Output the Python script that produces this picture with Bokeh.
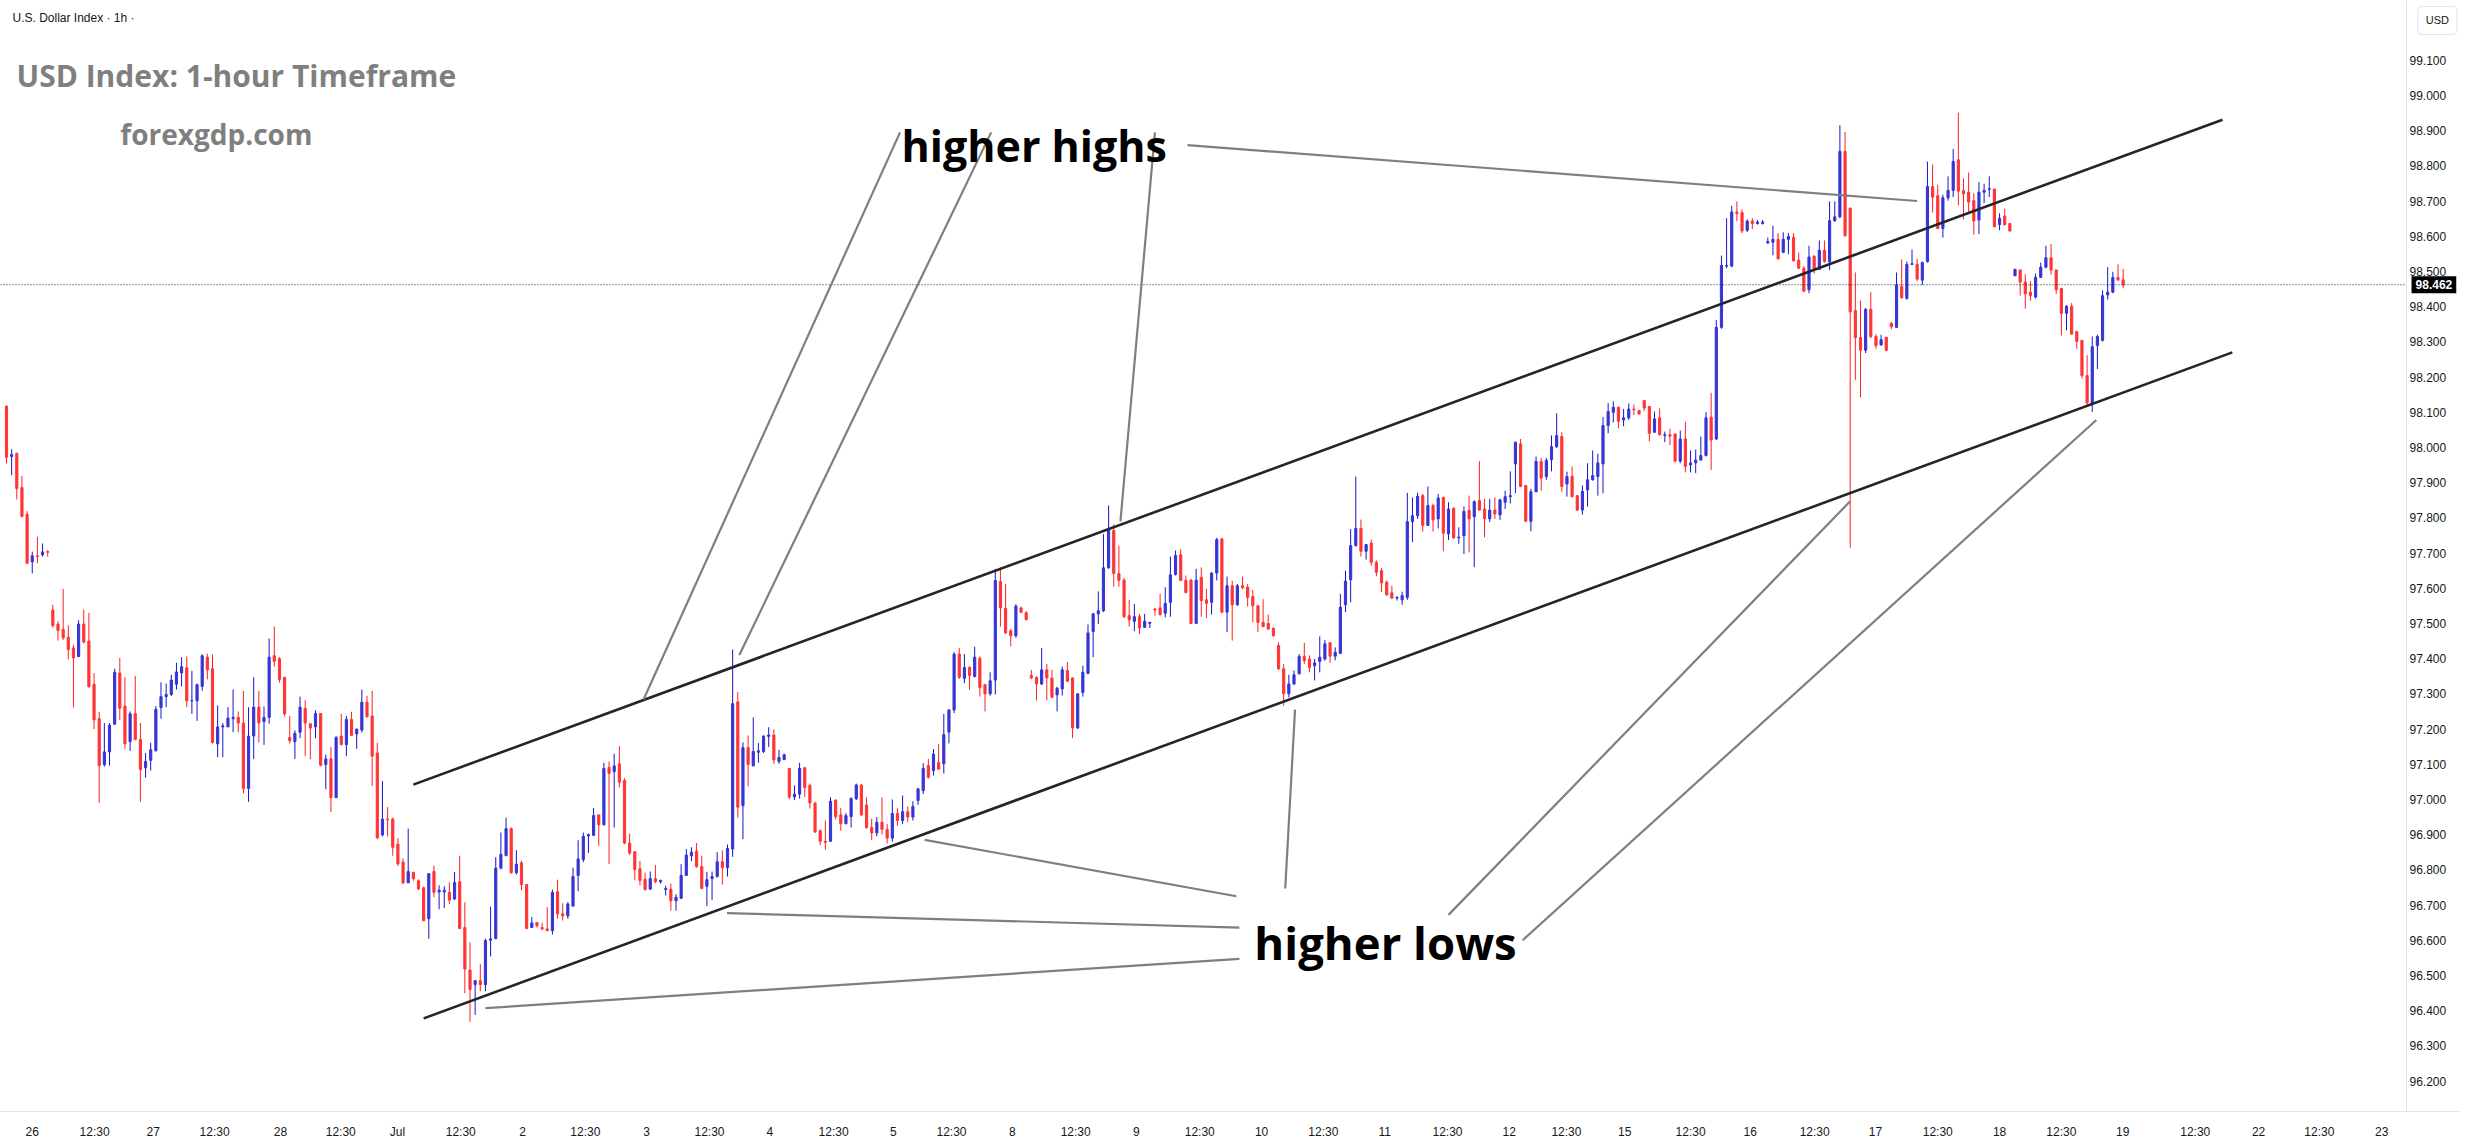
from bokeh.plotting import figure
from bokeh.models import Range1d, FixedTicker, NumeralTickFormatter, Span, Label, ColumnDataSource
from bokeh.embed import file_html
from bokeh.resources import INLINE
from bokeh.core.properties import value

# ---------------- data (1h candles) ----------------
opens = [
98.117,97.974,97.983,97.886,97.810,97.675,97.692,97.695,97.704,97.538,
97.498,97.483,97.461,97.430,97.406,97.498,97.450,97.327,97.229,97.099,
97.135,97.214,97.359,97.265,97.164,97.244,97.170,97.090,97.111,97.138,
97.261,97.292,97.298,97.327,97.359,97.374,97.280,97.280,97.321,97.404,
97.371,97.158,97.206,97.206,97.229,97.233,97.217,97.031,97.180,97.262,
97.221,97.233,97.408,97.400,97.347,97.176,97.164,97.191,97.259,97.215,
97.206,97.244,97.099,97.115,97.005,97.180,97.156,97.227,97.186,97.197,
97.276,97.237,97.132,96.899,96.944,96.944,96.873,96.822,96.763,96.793,
96.769,96.749,96.661,96.795,96.737,96.737,96.736,96.717,96.766,96.636,
96.515,96.474,96.485,96.474,96.600,96.605,96.805,96.840,96.917,96.792,
96.820,96.758,96.636,96.650,96.636,96.632,96.627,96.738,96.675,96.669,
96.697,96.784,96.829,96.896,96.898,96.956,96.928,97.091,97.079,97.101,
97.054,96.876,96.851,96.803,96.773,96.745,96.775,96.766,96.744,96.745,
96.712,96.719,96.784,96.840,96.853,96.809,96.753,96.775,96.781,96.823,
96.806,96.859,97.277,96.982,97.147,97.095,97.134,97.136,97.179,97.183,
97.108,97.113,97.088,97.007,97.015,97.090,97.040,96.989,96.911,96.881,
96.881,96.998,96.956,96.931,96.951,97.002,97.041,96.984,96.920,96.905,
96.935,96.915,96.890,96.960,96.940,96.965,96.950,96.997,97.025,97.096,
97.082,97.105,97.101,97.191,97.254,97.413,97.344,97.375,97.349,97.401,
97.326,97.300,97.339,97.619,97.543,97.479,97.465,97.544,97.530,97.352,
97.347,97.328,97.368,97.345,97.297,97.314,97.366,97.345,97.203,97.304,
97.358,97.477,97.527,97.536,97.658,97.764,97.642,97.623,97.522,97.506,
97.519,97.489,97.500,97.541,97.544,97.529,97.560,97.639,97.695,97.622,
97.623,97.500,97.631,97.567,97.560,97.643,97.740,97.532,97.607,97.553,
97.607,97.603,97.576,97.550,97.503,97.500,97.486,97.437,97.371,97.300,
97.328,97.357,97.406,97.399,97.380,97.392,97.399,97.445,97.407,97.415,
97.553,97.624,97.721,97.770,97.705,97.728,97.674,97.650,97.617,97.587,
97.572,97.567,97.574,97.789,97.806,97.863,97.778,97.835,97.797,97.858,
97.754,97.827,97.743,97.749,97.821,97.803,97.849,97.825,97.797,97.822,
97.808,97.844,97.860,97.953,98.010,97.892,97.790,97.874,97.960,97.917,
97.965,98.002,98.031,97.896,97.918,97.863,97.822,97.879,97.908,97.917,
97.953,98.062,98.100,98.114,98.078,98.084,98.109,98.105,98.133,98.116,
98.043,98.084,98.034,98.036,98.038,97.961,98.024,97.950,97.956,97.964,
97.977,98.086,98.024,98.341,98.515,98.515,98.669,98.667,98.617,98.643,
98.636,98.636,98.581,98.583,98.591,98.554,98.591,98.596,98.532,98.509,
98.448,98.543,98.506,98.560,98.528,98.644,98.655,98.841,98.680,98.389,
98.312,98.276,98.392,98.315,98.291,98.313,98.352,98.341,98.457,98.423,
98.520,98.520,98.475,98.528,98.741,98.715,98.622,98.709,98.730,98.817,
98.730,98.725,98.701,98.646,98.725,98.733,98.734,98.633,98.657,98.636,
98.488,98.504,98.470,98.441,98.427,98.483,98.512,98.539,98.504,98.452,
98.381,98.401,98.329,98.304,98.204,98.126,98.289,98.304,98.433,98.441,
98.483,98.476]

highs = [
98.119,97.995,97.985,97.919,97.819,97.704,97.746,97.727,97.708,97.553,
97.506,97.598,97.495,97.439,97.509,97.539,97.530,97.359,97.249,97.217,
97.217,97.371,97.402,97.347,97.250,97.351,97.217,97.132,97.161,97.265,
97.333,97.329,97.354,97.388,97.404,97.406,97.365,97.329,97.412,97.414,
97.412,97.267,97.217,97.262,97.312,97.250,97.308,97.262,97.347,97.308,
97.264,97.457,97.491,97.404,97.347,97.237,97.196,97.292,97.282,97.215,
97.253,97.244,97.127,97.149,97.180,97.243,97.237,97.249,97.200,97.312,
97.294,97.308,97.161,97.052,96.978,96.948,96.890,96.832,96.917,96.793,
96.773,96.752,96.789,96.812,96.756,96.753,96.764,96.794,96.840,96.708,
96.594,96.487,96.532,96.604,96.695,96.836,96.906,96.948,96.920,96.856,
96.826,96.758,96.666,96.650,96.649,96.694,96.744,96.772,96.705,96.708,
96.806,96.884,96.906,96.903,96.976,96.956,97.104,97.108,97.130,97.151,
97.060,96.903,96.853,96.825,96.792,96.795,96.814,96.772,96.755,96.761,
96.731,96.816,96.859,96.864,96.876,96.840,96.794,96.795,96.850,96.855,
96.872,97.426,97.305,97.162,97.182,97.233,97.160,97.182,97.205,97.199,
97.141,97.130,97.088,97.040,97.104,97.090,97.045,96.993,96.915,96.940,
97.006,97.000,96.976,96.961,97.006,97.045,97.043,97.006,96.945,96.950,
97.006,96.930,97.000,96.975,97.011,96.980,96.995,97.033,97.103,97.115,
97.143,97.157,97.243,97.257,97.418,97.430,97.413,97.378,97.434,97.406,
97.328,97.361,97.655,97.659,97.612,97.484,97.555,97.548,97.535,97.368,
97.349,97.430,97.385,97.368,97.320,97.377,97.390,97.347,97.302,97.380,
97.497,97.530,97.591,97.754,97.835,97.781,97.721,97.629,97.567,97.555,
97.527,97.527,97.503,97.544,97.584,97.603,97.690,97.707,97.711,97.636,
97.626,97.655,97.659,97.598,97.645,97.743,97.743,97.633,97.621,97.612,
97.633,97.612,97.595,97.553,97.569,97.525,97.489,97.446,97.385,97.354,
97.366,97.413,97.445,97.409,97.399,97.463,97.453,97.447,97.432,97.584,
97.650,97.768,97.917,97.795,97.726,97.738,97.679,97.657,97.622,97.607,
97.577,97.590,97.871,97.858,97.871,97.868,97.889,97.840,97.868,97.860,
97.844,97.830,97.773,97.832,97.863,97.849,97.961,97.854,97.854,97.858,
97.854,97.877,97.932,98.015,98.024,97.892,97.882,97.974,97.970,97.970,
98.034,98.097,98.043,97.931,97.946,97.863,97.892,97.955,97.991,97.982,
98.086,98.126,98.131,98.116,98.109,98.125,98.122,98.105,98.133,98.116,
98.102,98.111,98.045,98.053,98.040,98.048,98.073,97.991,97.994,98.031,
98.100,98.155,98.362,98.545,98.651,98.686,98.699,98.676,98.648,98.651,
98.646,98.646,98.596,98.630,98.609,98.611,98.609,98.609,98.554,98.515,
98.573,98.546,98.588,98.588,98.699,98.699,98.915,98.896,98.680,98.497,
98.417,98.396,98.441,98.322,98.320,98.313,98.357,98.497,98.534,98.528,
98.562,98.536,98.528,98.812,98.804,98.746,98.718,98.770,98.848,98.951,
98.764,98.781,98.722,98.754,98.749,98.770,98.734,98.665,98.678,98.636,
98.507,98.506,98.492,98.473,98.494,98.525,98.573,98.578,98.504,98.452,
98.404,98.410,98.331,98.304,98.262,98.315,98.320,98.446,98.512,98.499,
98.520,98.507]

lows = [
97.954,97.921,97.852,97.801,97.668,97.642,97.671,97.690,97.690,97.488,
97.451,97.453,97.398,97.261,97.404,97.443,97.318,97.200,96.990,97.093,
97.096,97.211,97.226,97.144,97.138,97.168,96.993,97.062,97.082,97.137,
97.229,97.262,97.294,97.312,97.321,97.262,97.243,97.223,97.309,97.341,
97.158,97.120,97.120,97.206,97.191,97.191,97.017,96.993,97.115,97.162,
97.155,97.215,97.377,97.332,97.235,97.159,97.115,97.174,97.123,97.114,
97.174,97.094,97.029,96.964,97.005,97.153,97.123,97.182,97.144,97.190,
97.232,97.038,96.887,96.895,96.895,96.840,96.811,96.760,96.763,96.769,
96.742,96.655,96.604,96.722,96.688,96.691,96.703,96.714,96.633,96.449,
96.368,96.388,96.455,96.455,96.554,96.602,96.801,96.840,96.789,96.786,
96.742,96.633,96.636,96.636,96.628,96.627,96.616,96.661,96.656,96.661,
96.697,96.739,96.822,96.848,96.896,96.868,96.926,96.816,96.920,97.034,
96.873,96.842,96.770,96.756,96.741,96.744,96.762,96.761,96.727,96.684,
96.684,96.719,96.783,96.825,96.806,96.745,96.697,96.714,96.778,96.758,
96.781,96.837,96.948,96.887,97.037,97.095,97.104,97.132,97.149,97.101,
97.101,97.112,97.001,96.998,97.002,97.007,96.974,96.907,96.870,96.857,
96.881,96.943,96.911,96.929,96.920,96.998,96.952,96.917,96.885,96.895,
96.900,96.875,96.880,96.925,96.930,96.935,96.940,96.985,97.015,97.059,
97.068,97.084,97.074,97.159,97.245,97.342,97.330,97.311,97.347,97.292,
97.250,97.295,97.298,97.491,97.470,97.435,97.459,97.529,97.508,97.342,
97.281,97.325,97.281,97.288,97.250,97.295,97.333,97.174,97.200,97.292,
97.356,97.404,97.498,97.532,97.655,97.604,97.604,97.515,97.491,97.478,
97.470,97.487,97.487,97.522,97.522,97.517,97.519,97.636,97.620,97.585,
97.498,97.498,97.519,97.515,97.525,97.622,97.529,97.475,97.451,97.550,
97.598,97.548,97.503,97.475,97.489,97.481,97.462,97.368,97.266,97.290,
97.325,97.355,97.385,97.361,97.338,97.361,97.394,97.388,97.395,97.413,
97.532,97.560,97.718,97.690,97.681,97.664,97.634,97.589,97.579,97.570,
97.565,97.553,97.567,97.731,97.797,97.761,97.778,97.761,97.770,97.705,
97.737,97.740,97.726,97.697,97.702,97.660,97.820,97.745,97.788,97.797,
97.794,97.825,97.841,97.870,97.887,97.790,97.762,97.873,97.877,97.908,
97.932,97.998,97.874,97.860,97.858,97.820,97.809,97.832,97.906,97.863,
97.870,98.040,98.071,98.054,98.060,98.078,98.092,98.093,98.103,98.017,
98.043,98.034,98.015,98.007,97.958,97.955,97.929,97.929,97.927,97.963,
97.974,97.936,98.021,98.337,98.509,98.512,98.643,98.609,98.612,98.620,
98.633,98.633,98.578,98.546,98.533,98.552,98.549,98.528,98.507,98.441,
98.438,98.494,98.504,98.525,98.504,98.641,98.651,98.599,97.715,98.192,
98.143,98.268,98.310,98.280,98.289,98.273,98.336,98.339,98.423,98.420,
98.518,98.473,98.462,98.525,98.667,98.620,98.596,98.701,98.711,98.688,
98.648,98.667,98.604,98.606,98.694,98.711,98.625,98.617,98.630,98.613,
98.486,98.431,98.394,98.417,98.423,98.483,98.509,98.491,98.436,98.318,
98.333,98.320,98.280,98.196,98.118,98.101,98.223,98.301,98.420,98.438,
98.473,98.452]

closes = [
97.972,97.980,97.883,97.804,97.671,97.692,97.690,97.703,97.702,97.494,
97.480,97.459,97.426,97.402,97.498,97.447,97.320,97.226,97.096,97.135,
97.211,97.361,97.259,97.158,97.243,97.170,97.085,97.108,97.141,97.256,
97.292,97.298,97.339,97.362,97.377,97.280,97.281,97.326,97.408,97.368,
97.162,97.206,97.209,97.231,97.233,97.217,97.031,97.180,97.262,97.217,
97.233,97.404,97.392,97.341,97.243,97.167,97.188,97.262,97.217,97.203,
97.244,97.097,97.115,97.005,97.176,97.156,97.227,97.182,97.200,97.276,
97.235,97.123,96.891,96.944,96.942,96.864,96.817,96.763,96.795,96.775,
96.746,96.655,96.789,96.736,96.742,96.742,96.714,96.764,96.633,96.518,
96.460,96.485,96.474,96.599,96.604,96.805,96.844,96.917,96.792,96.816,
96.758,96.633,96.649,96.641,96.632,96.627,96.736,96.675,96.669,96.703,
96.781,96.831,96.895,96.900,96.954,96.928,97.088,97.074,97.095,97.049,
96.876,96.848,96.801,96.770,96.744,96.775,96.766,96.770,96.747,96.712,
96.722,96.784,96.842,96.850,96.809,96.747,96.772,96.781,96.823,96.806,
96.861,97.272,96.978,97.147,97.099,97.136,97.138,97.180,97.183,97.112,
97.119,97.127,97.007,97.015,97.088,97.034,96.990,96.907,96.881,96.878,
96.995,96.951,96.931,96.954,97.002,97.041,96.956,96.920,96.905,96.935,
96.915,96.890,96.960,96.940,96.965,96.950,96.980,97.030,97.088,97.063,
97.129,97.086,97.184,97.254,97.413,97.347,97.375,97.352,97.404,97.318,
97.300,97.337,97.622,97.544,97.473,97.465,97.549,97.532,97.511,97.345,
97.328,97.368,97.345,97.290,97.316,97.368,97.336,97.203,97.300,97.361,
97.473,97.527,97.536,97.658,97.764,97.642,97.622,97.519,97.510,97.519,
97.487,97.506,97.503,97.538,97.525,97.557,97.638,97.693,97.622,97.588,
97.500,97.623,97.565,97.557,97.643,97.738,97.532,97.607,97.553,97.607,
97.601,97.574,97.550,97.503,97.491,97.484,97.465,97.371,97.300,97.328,
97.354,97.406,97.394,97.375,97.388,97.404,97.442,97.407,97.418,97.546,
97.620,97.721,97.770,97.705,97.724,97.674,97.645,97.615,97.581,97.572,
97.574,97.579,97.789,97.806,97.861,97.778,97.835,97.794,97.856,97.756,
97.825,97.743,97.745,97.818,97.797,97.846,97.822,97.797,97.822,97.811,
97.851,97.860,97.863,98.015,97.889,97.790,97.874,97.960,97.913,97.963,
98.002,98.034,97.889,97.917,97.860,97.822,97.875,97.908,97.920,97.956,
98.062,98.102,98.114,98.074,98.084,98.109,98.107,98.095,98.112,98.040,
98.081,98.036,98.036,98.032,97.961,98.024,97.946,97.956,97.964,97.977,
98.084,98.021,98.341,98.517,98.517,98.669,98.664,98.615,98.643,98.636,
98.640,98.640,98.585,98.591,98.536,98.591,98.599,98.530,98.509,98.444,
98.541,98.504,98.560,98.528,98.644,98.655,98.841,98.601,98.385,98.312,
98.276,98.392,98.315,98.289,98.306,98.276,98.343,98.462,98.425,98.520,
98.522,98.478,98.525,98.741,98.711,98.622,98.709,98.730,98.812,98.728,
98.720,98.697,98.643,98.725,98.730,98.735,98.627,98.651,98.633,98.615,
98.506,98.470,98.436,98.431,98.483,98.512,98.539,98.504,98.448,98.381,
98.401,98.322,98.301,98.204,98.126,98.286,98.315,98.431,98.441,98.483,
98.476,98.462]

n = len(closes)
if not (len(opens) == len(highs) == len(lows) == n):
    raise SystemExit(f"length mismatch o={len(opens)} h={len(highs)} l={len(lows)} c={n}")

# time-axis labels (bar index of each label)
xtick_pos = [5.0, 17.1, 28.5, 40.4, 53.2, 64.9, 75.9, 88.2, 100.2, 112.4, 124.3, 136.5,
             148.2, 160.6, 172.2, 183.5, 195.3, 207.6, 219.4, 231.7, 243.7, 255.7, 267.6,
             279.8, 291.8, 302.9, 314.2, 327.0, 338.6, 351.1, 362.9, 375.0, 387.0, 399.0,
             410.9, 425.0, 437.3, 449.1, 461.2]
xtick_lab = ["26", "12:30", "27", "12:30", "28", "12:30", "Jul", "12:30", "2", "12:30",
             "3", "12:30", "4", "12:30", "5", "12:30", "8", "12:30", "9", "12:30", "10",
             "12:30", "11", "12:30", "12", "12:30", "15", "12:30", "16", "12:30", "17",
             "12:30", "18", "12:30", "19", "12:30", "22", "12:30", "23"]
ytick_pos = [96.2, 96.3, 96.4, 96.5, 96.6, 96.7, 96.8, 96.9, 97.0, 97.1, 97.2, 97.3,
             97.4, 97.5, 97.6, 97.7, 97.8, 97.9, 98.0, 98.1, 98.2, 98.3, 98.4, 98.5,
             98.6, 98.7, 98.8, 98.9, 99.0, 99.1]

# channel lines (bar index, price)
chan_x0 = [79.0, 81.0]
chan_y0 = [97.042, 96.378]
chan_x1 = [430.3, 432.2]
chan_y1 = [98.931, 98.270]

# gray pointer lines (bar index, price)
ptr_x0 = [173.5, 191.2, 223.0, 229.3, 238.8, 248.3, 239.4, 239.4, 280.0, 294.4]
ptr_y0 = [98.895, 98.895, 98.895, 98.859, 96.725, 96.747, 96.636, 96.547, 96.672, 96.600]
ptr_x1 = [123.7, 142.3, 216.3, 371.0, 178.3, 250.2, 139.9, 93.0, 358.0, 405.8]
ptr_y1 = [97.284, 97.410, 97.790, 98.700, 96.885, 97.255, 96.677, 96.407, 97.847, 98.078]

# ---------------- figure ----------------
X0, X1 = -1.165, 476.31        # frame spans the whole width incl. the price scale
AXIS_SEP = 466.02              # position of the price-scale separator
p = figure(width=2465, height=1144, output_backend="svg", toolbar_location=None,
           x_range=Range1d(X0, X1), y_range=Range1d(96.1134, 99.2696),
           y_axis_location="right", min_border_left=0, min_border_top=0,
           min_border_right=6, min_border_bottom=33)
p.outline_line_color = None
p.xgrid.visible = False
p.ygrid.visible = False
p.background_fill_color = "white"
p.border_fill_color = "white"

ax = p.xaxis[0]
ax.ticker = FixedTicker(ticks=xtick_pos)
ax.major_label_overrides = {pos: lab for pos, lab in zip(xtick_pos, xtick_lab)}
ay = p.yaxis[0]
ay.ticker = FixedTicker(ticks=ytick_pos)
ay.formatter = NumeralTickFormatter(format="0.000")
for a in (ax, ay):
    a.axis_line_width = 1
    a.major_tick_line_color = None
    a.minor_tick_line_color = None
    a.major_label_text_font = "Liberation Sans"
    a.major_label_text_font_size = "12px"
    a.major_label_text_color = "#131722"
ax.axis_line_color = "#e0e3eb"
ay.axis_line_color = None
ax.major_label_standoff = 7
ay.major_label_standoff = -56

# price-scale separator
p.add_layout(Span(location=AXIS_SEP, dimension="height", line_color="#e0e3eb", line_width=1))

up = [c >= o for o, c in zip(opens, closes)]
src = ColumnDataSource(dict(
    x=list(range(n)),
    top=[max(o, c) for o, c in zip(opens, closes)],
    bottom=[min(o, c) for o, c in zip(opens, closes)],
    high=highs, low=lows,
    body=["#3535d4" if u else "#ff3535" for u in up],
    wick=["#1616c8" if u else "#ff2020" for u in up],
))
p.segment(x0="x", y0="low", x1="x", y1="high", source=src, line_color="wick", line_width=1)
p.vbar(x="x", top="top", bottom="bottom", width=0.42, source=src,
       fill_color="body", line_color="body", line_width=1)

# current price dotted line
p.segment([X0], [closes[-1]], [AXIS_SEP], [closes[-1]], line_color="#131722",
          line_width=1, line_dash="1 2")

# channel and pointer lines
p.segment(chan_x0, chan_y0, chan_x1, chan_y1, line_color="#24242a", line_width=2.6)
p.segment(ptr_x0, ptr_y0, ptr_x1, ptr_y1, line_color="#7f7f7f", line_width=2.2)

# texts
p.text(x=[1.165], y=[99.221], text=["U.S. Dollar Index \u00b7 1h \u00b7"],
       text_font=value("Liberation Sans"), text_font_size="12px", text_color="#131722",
       text_baseline="middle", text_align="left")
p.text(x=[1.94], y=[99.057], text=["USD Index: 1-hour Timeframe"],
       text_font=value("Open Sans"), text_font_style="bold", text_font_size="30px",
       text_color="#7f7f7f", text_baseline="alphabetic", text_align="left")
p.text(x=[22.1], y=[98.889], text=["forexgdp.com"],
       text_font=value("Open Sans"), text_font_style="bold", text_font_size="28px",
       text_color="#7f7f7f", text_baseline="alphabetic", text_align="left")
p.text(x=[173.8], y=[98.857], text=["higher highs"],
       text_font=value("Open Sans"), text_font_style="bold", text_font_size="43px",
       text_color="#000000", text_baseline="alphabetic", text_align="left")
p.text(x=[242.3], y=[96.594], text=["higher lows"],
       text_font=value("Open Sans"), text_font_style="bold", text_font_size="45.5px",
       text_color="#000000", text_baseline="alphabetic", text_align="left")

# price tag on the scale and currency box
p.add_layout(Label(x=467.0, y=closes[-1], text=f"{closes[-1]:.3f}",
                   text_font="Liberation Sans", text_font_style="bold",
                   text_font_size="12px", text_color="white", text_align="left",
                   text_baseline="middle", background_fill_color="black", padding=4))
p.add_layout(Label(x=468.2, y=99.213, text="USD", text_font="Liberation Sans",
                   text_font_size="11px", text_color="#131722", text_align="left",
                   text_baseline="middle", background_fill_color="white",
                   border_line_color="#e0e3eb", border_radius=4, padding=8))

open("out.html", "w").write(file_html(p, INLINE))
